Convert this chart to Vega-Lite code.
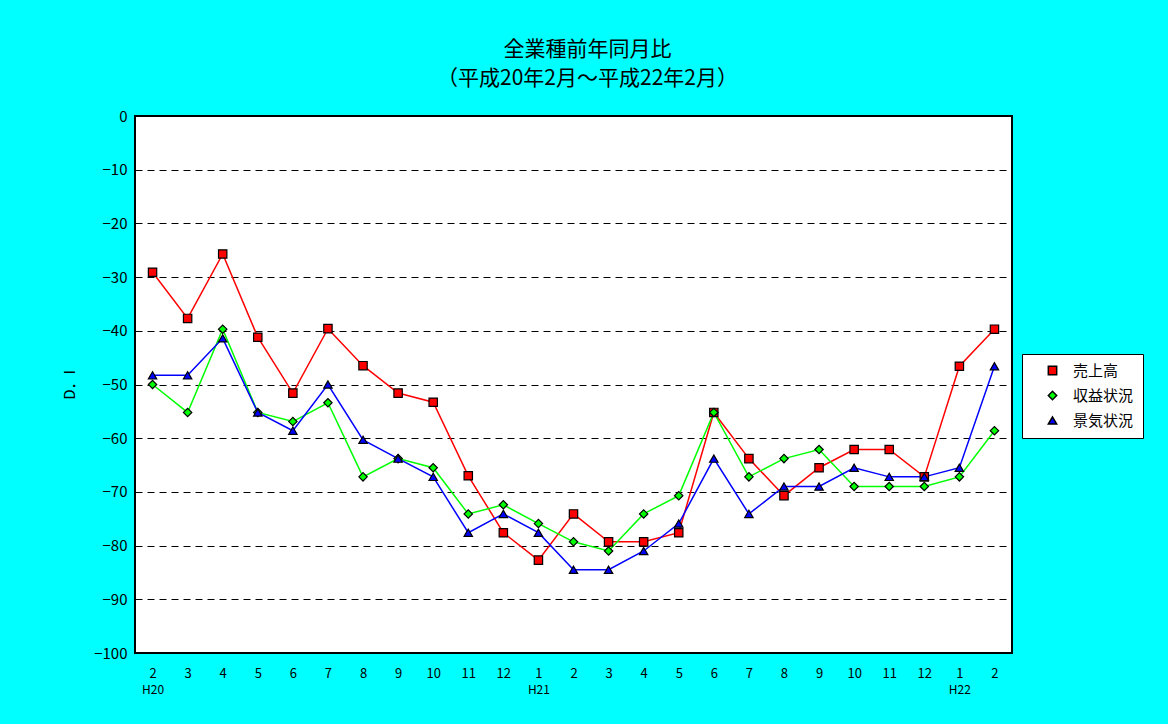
{
  "$schema": "https://vega.github.io/schema/vega-lite/v6.json",
  "autosize": {"type": "none"},
  "padding": {"left": 135, "top": 116, "right": 156, "bottom": 71},
  "width": 877,
  "height": 537,
  "background": "#00FFFF",
  "title": {
    "text": "全業種前年同月比",
    "subtitle": "（平成20年2月～平成22年2月）",
    "font": "Noto Sans CJK JP",
    "subtitleFont": "Noto Sans CJK JP",
    "fontSize": 21,
    "subtitleFontSize": 21,
    "fontWeight": "normal",
    "subtitleFontWeight": "normal",
    "color": "black",
    "subtitleColor": "black",
    "subtitlePadding": 8,
    "anchor": "middle",
    "offset": 20,
    "dx": 14
  },
  "config": {
    "font": "Noto Sans CJK JP",
    "view": {"fill": "white", "stroke": "black", "strokeWidth": 2},
    "axis": {"labelFont": "Noto Sans CJK JP", "titleFont": "Noto Sans CJK JP", "labelColor": "black", "titleColor": "black"}
  },
  "data": {
    "values": [
      {"k": "H20/2", "s": "売上高", "v": -29.1}, {"k": "H20/3", "s": "売上高", "v": -37.7}, {"k": "H20/4", "s": "売上高", "v": -25.7},
      {"k": "H20/5", "s": "売上高", "v": -41.2}, {"k": "H20/6", "s": "売上高", "v": -51.6}, {"k": "H20/7", "s": "売上高", "v": -39.6},
      {"k": "H20/8", "s": "売上高", "v": -46.5}, {"k": "H20/9", "s": "売上高", "v": -51.6}, {"k": "H20/10", "s": "売上高", "v": -53.3},
      {"k": "H20/11", "s": "売上高", "v": -67.0}, {"k": "H20/12", "s": "売上高", "v": -77.6}, {"k": "H21/1", "s": "売上高", "v": -82.7},
      {"k": "H21/2", "s": "売上高", "v": -74.1}, {"k": "H21/3", "s": "売上高", "v": -79.3}, {"k": "H21/4", "s": "売上高", "v": -79.3},
      {"k": "H21/5", "s": "売上高", "v": -77.6}, {"k": "H21/6", "s": "売上高", "v": -55.2}, {"k": "H21/7", "s": "売上高", "v": -63.8},
      {"k": "H21/8", "s": "売上高", "v": -70.7}, {"k": "H21/9", "s": "売上高", "v": -65.5}, {"k": "H21/10", "s": "売上高", "v": -62.1},
      {"k": "H21/11", "s": "売上高", "v": -62.1}, {"k": "H21/12", "s": "売上高", "v": -67.2}, {"k": "H22/1", "s": "売上高", "v": -46.6},
      {"k": "H22/2", "s": "売上高", "v": -39.7},
      {"k": "H20/2", "s": "収益状況", "v": -50.0}, {"k": "H20/3", "s": "収益状況", "v": -55.2}, {"k": "H20/4", "s": "収益状況", "v": -39.7},
      {"k": "H20/5", "s": "収益状況", "v": -55.2}, {"k": "H20/6", "s": "収益状況", "v": -56.9}, {"k": "H20/7", "s": "収益状況", "v": -53.4},
      {"k": "H20/8", "s": "収益状況", "v": -67.2}, {"k": "H20/9", "s": "収益状況", "v": -63.8}, {"k": "H20/10", "s": "収益状況", "v": -65.5},
      {"k": "H20/11", "s": "収益状況", "v": -74.1}, {"k": "H20/12", "s": "収益状況", "v": -72.4}, {"k": "H21/1", "s": "収益状況", "v": -75.9},
      {"k": "H21/2", "s": "収益状況", "v": -79.3}, {"k": "H21/3", "s": "収益状況", "v": -81.0}, {"k": "H21/4", "s": "収益状況", "v": -74.1},
      {"k": "H21/5", "s": "収益状況", "v": -70.7}, {"k": "H21/6", "s": "収益状況", "v": -55.2}, {"k": "H21/7", "s": "収益状況", "v": -67.2},
      {"k": "H21/8", "s": "収益状況", "v": -63.8}, {"k": "H21/9", "s": "収益状況", "v": -62.1}, {"k": "H21/10", "s": "収益状況", "v": -69.0},
      {"k": "H21/11", "s": "収益状況", "v": -69.0}, {"k": "H21/12", "s": "収益状況", "v": -69.0}, {"k": "H22/1", "s": "収益状況", "v": -67.2},
      {"k": "H22/2", "s": "収益状況", "v": -58.6},
      {"k": "H20/2", "s": "景気状況", "v": -48.3}, {"k": "H20/3", "s": "景気状況", "v": -48.3}, {"k": "H20/4", "s": "景気状況", "v": -41.4},
      {"k": "H20/5", "s": "景気状況", "v": -55.2}, {"k": "H20/6", "s": "景気状況", "v": -58.6}, {"k": "H20/7", "s": "景気状況", "v": -50.0},
      {"k": "H20/8", "s": "景気状況", "v": -60.3}, {"k": "H20/9", "s": "景気状況", "v": -63.8}, {"k": "H20/10", "s": "景気状況", "v": -67.2},
      {"k": "H20/11", "s": "景気状況", "v": -77.6}, {"k": "H20/12", "s": "景気状況", "v": -74.1}, {"k": "H21/1", "s": "景気状況", "v": -77.6},
      {"k": "H21/2", "s": "景気状況", "v": -84.5}, {"k": "H21/3", "s": "景気状況", "v": -84.5}, {"k": "H21/4", "s": "景気状況", "v": -81.0},
      {"k": "H21/5", "s": "景気状況", "v": -75.9}, {"k": "H21/6", "s": "景気状況", "v": -63.8}, {"k": "H21/7", "s": "景気状況", "v": -74.1},
      {"k": "H21/8", "s": "景気状況", "v": -69.0}, {"k": "H21/9", "s": "景気状況", "v": -69.0}, {"k": "H21/10", "s": "景気状況", "v": -65.5},
      {"k": "H21/11", "s": "景気状況", "v": -67.2}, {"k": "H21/12", "s": "景気状況", "v": -67.2}, {"k": "H22/1", "s": "景気状況", "v": -65.5},
      {"k": "H22/2", "s": "景気状況", "v": -46.6}
    ]
  },
  "encoding": {
    "y": {
      "field": "v",
      "type": "quantitative",
      "scale": {"domain": [-100, 0], "nice": false, "zero": false},
      "axis": {
        "title": "D．I",
        "titleFontSize": 15,
        "titleFontWeight": "normal",
        "titlePadding": 16,
        "values": [0, -10, -20, -30, -40, -50, -60, -70, -80, -90, -100],
        "labelFontSize": 15,
        "labelPadding": 8,
        "ticks": false,
        "domain": false,
        "grid": true,
        "gridColor": "black",
        "gridDash": [7, 5],
        "gridWidth": 1,
        "gridOpacity": 1
      }
    }
  },
  "layer": [
    {
      "transform": [{"filter": "datum.s == '売上高'"}],
      "mark": {"type": "line", "strokeWidth": 1.5, "color": "#FF0000"},
      "encoding": {
        "x": {
          "field": "k",
          "type": "ordinal",
          "scale": {"type": "point", "padding": 0.5, "domain": ["H20/2","H20/3","H20/4","H20/5","H20/6","H20/7","H20/8","H20/9","H20/10","H20/11","H20/12","H21/1","H21/2","H21/3","H21/4","H21/5","H21/6","H21/7","H21/8","H21/9","H21/10","H21/11","H21/12","H22/1","H22/2"]},
          "axis": {
            "title": null,
            "orient": "bottom",
            "domain": false,
            "ticks": false,
            "labelAngle": 0,
            "labelFontSize": 13,
            "labelPadding": 14,
            "labelBaseline": "top",
            "labelExpr": "split(datum.value, '/')[1]"
          }
        }
      }
    },
    {
      "transform": [{"filter": "datum.s == '収益状況'"}],
      "mark": {"type": "line", "strokeWidth": 1.5, "color": "#00FF00"},
      "encoding": {
        "x": {"field": "k", "type": "ordinal", "axis": null}
      }
    },
    {
      "transform": [{"filter": "datum.s == '景気状況'"}],
      "mark": {"type": "line", "strokeWidth": 1.5, "color": "#0000FF"},
      "encoding": {
        "x": {"field": "k", "type": "ordinal", "axis": null}
      }
    },
    {
      "mark": {"type": "point", "filled": true, "stroke": "black", "strokeWidth": 1.2, "size": 70, "opacity": 1},
      "encoding": {
        "x": {
          "field": "k",
          "type": "ordinal",
          "axis": {
            "title": null,
            "orient": "bottom",
            "domain": false,
            "ticks": false,
            "labelAngle": 0,
            "labelFontSize": 12,
            "labelPadding": 31,
            "labelBaseline": "top",
            "labelOverlap": false,
            "labelExpr": "(datum.value == 'H20/2' || datum.value == 'H21/1' || datum.value == 'H22/1') ? split(datum.value, '/')[0] : ''"
          }
        },
        "color": {
          "field": "s",
          "type": "nominal",
          "scale": {"domain": ["売上高", "収益状況", "景気状況"], "range": ["#FF0000", "#00FF00", "#0000FF"]},
          "legend": {
            "title": null,
            "orient": "none",
            "legendX": 887,
            "legendY": 238,
            "fillColor": "white",
            "strokeColor": "black",
            "padding": 9,
            "labelFontSize": 15,
            "labelFont": "Noto Sans CJK JP",
            "labelColor": "black",
            "rowPadding": 9,
            "symbolSize": 70,
            "symbolOffset": 14,
            "labelOffset": 13
          }
        },
        "shape": {
          "field": "s",
          "type": "nominal",
          "scale": {"domain": ["売上高", "収益状況", "景気状況"], "range": ["square", "diamond", "triangle-up"]},
          "legend": {
            "title": null,
            "orient": "none",
            "legendX": 887,
            "legendY": 238,
            "fillColor": "white",
            "strokeColor": "black",
            "padding": 9,
            "labelFontSize": 15,
            "labelFont": "Noto Sans CJK JP",
            "labelColor": "black",
            "rowPadding": 9,
            "symbolSize": 70,
            "symbolOffset": 14,
            "labelOffset": 13
          }
        }
      }
    }
  ],
  "resolve": {"axis": {"x": "independent"}}
}
